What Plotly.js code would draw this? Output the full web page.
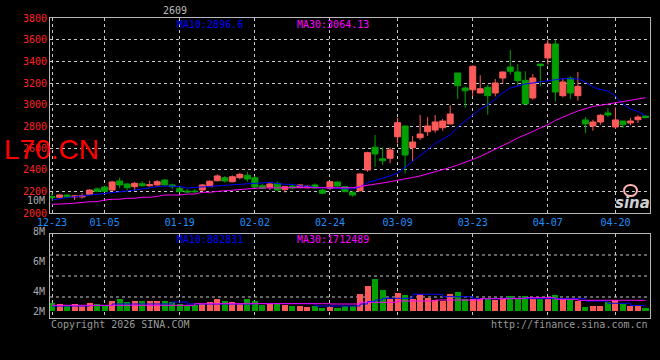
<!DOCTYPE html>
<html><head><meta charset="utf-8">
<script src="https://cdn.plot.ly/plotly-3.0.1.min.js"></script>
<style>html,body{margin:0;padding:0;background:#000;}#chart{width:660px;height:360px;}</style>
</head><body><div id="chart"></div>
<script>
const dates = ["2025-12-23","2025-12-24","2025-12-25","2025-12-26","2025-12-29","2025-12-30","2025-12-31",
"2026-01-05","2026-01-06","2026-01-07","2026-01-08","2026-01-09","2026-01-12","2026-01-13","2026-01-14","2026-01-15","2026-01-16",
"2026-01-19","2026-01-20","2026-01-21","2026-01-22","2026-01-23","2026-01-26","2026-01-27","2026-01-28","2026-01-29","2026-01-30",
"2026-02-02","2026-02-03","2026-02-04","2026-02-05","2026-02-06","2026-02-09","2026-02-10","2026-02-11","2026-02-12","2026-02-13",
"2026-02-24","2026-02-25","2026-02-26","2026-02-27","2026-03-02","2026-03-03","2026-03-04","2026-03-05","2026-03-06",
"2026-03-09","2026-03-10","2026-03-11","2026-03-12","2026-03-13","2026-03-16","2026-03-17","2026-03-18","2026-03-19","2026-03-20",
"2026-03-23","2026-03-24","2026-03-25","2026-03-26","2026-03-27","2026-03-30","2026-03-31","2026-04-01","2026-04-02","2026-04-03",
"2026-04-07","2026-04-08","2026-04-09","2026-04-10","2026-04-13","2026-04-14","2026-04-15","2026-04-16","2026-04-17",
"2026-04-20","2026-04-21","2026-04-22","2026-04-23","2026-04-24"];

const open  = [2152,2145,2166,2148,2148,2173,2222,2240,2212,2296,2268,2243,2270,2252,2259,2305,2259,2228,2203,2203,
2212,2243,2298,2326,2289,2326,2348,2325,2252,2238,2274,2219,2249,2237,2234,2259,2212,2228,2286,2243,
2191,2206,2397,2607,2501,2505,2704,2803,2603,2695,2750,2766,2787,2822,3292,3154,3138,3108,3160,3108,
3246,3348,3302,3225,3062,3375,3431,3560,3083,3246,3083,2859,2803,2840,2923,2794,2849,2831,2861,2895];
const high  = [2185,2173,2175,2166,2182,2219,2237,2245,2298,2326,2274,2289,2295,2298,2305,2310,2271,2240,2219,2222,
2268,2302,2357,2342,2348,2372,2381,2342,2268,2277,2289,2249,2261,2265,2255,2274,2224,2295,2292,2249,
2203,2366,2566,2720,2606,2606,2880,2803,2711,2905,2886,2905,2868,2994,3292,3170,3363,3271,3184,3237,
3302,3505,3375,3308,3283,3375,3600,3600,3246,3262,3302,2886,2861,2914,2969,2976,2849,2877,2902,2900];
const low   = [2114,2136,2138,2120,2132,2166,2191,2195,2206,2228,2206,2212,2243,2243,2252,2255,2219,2191,2182,2182,
2206,2240,2293,2280,2283,2311,2289,2228,2222,2212,2203,2188,2222,2231,2228,2222,2173,2212,2243,2191,
2151,2197,2381,2427,2443,2459,2643,2366,2480,2674,2711,2741,2760,2822,3052,2969,3077,3108,2907,3077,
3194,3277,3170,3006,3046,3170,3369,3031,3068,3052,3037,2738,2760,2815,2886,2775,2785,2810,2831,2875];
const close = [2143,2166,2148,2157,2162,2212,2200,2200,2286,2259,2234,2274,2252,2261,2289,2259,2243,2197,2194,2197,
2259,2293,2342,2295,2335,2357,2314,2240,2228,2268,2212,2243,2231,2259,2249,2231,2182,2289,2249,2197,
2166,2360,2557,2545,2483,2582,2834,2535,2655,2729,2803,2840,2849,2914,3175,3129,3354,3147,3083,3200,
3302,3308,3221,3006,3246,3360,3560,3117,3209,3108,3169,2822,2840,2902,2905,2859,2815,2849,2886,2881];

const ma10 = [2120,2134,2143,2150,2157,2163,2171,2175,2185,2191,2203,2212,2224,2234,2243,2249,2249,2245,2231,2236,
2243,2249,2252,2259,2263,2268,2274,2274,2277,2283,2272,2265,2265,2249,2249,2234,2234,2234,2226,2222,
2222,2240,2282,2300,2319,2342,2369,2420,2475,2531,2582,2642,2683,2720,2794,2849,2909,2960,2997,3052,
3108,3154,3172,3191,3200,3209,3221,3232,3240,3240,3237,3209,3163,3140,3126,3080,3006,2960,2937,2897];
const ma30 = [2080,2080,2086,2090,2097,2104,2104,2120,2127,2127,2136,2136,2145,2145,2154,2166,2166,2166,2175,2175,
2191,2191,2199,2205,2212,2222,2228,2228,2231,2233,2233,2233,2233,2233,2233,2233,2233,2233,2233,2233,
2233,2245,2254,2268,2277,2289,2300,2314,2328,2342,2360,2379,2397,2420,2443,2466,2494,2522,2554,2586,
2619,2656,2693,2720,2752,2785,2815,2854,2886,2914,2942,2965,2983,2994,3006,3018,3029,3040,3048,3064];

const volume = [1280000,1120000,800000,1120000,800000,1280000,1120000,800000,1600000,1920000,
1440000,1600000,1600000,1600000,1600000,1600000,1440000,1120000,800000,960000,
1120000,1440000,1920000,1600000,1440000,1120000,1920000,1600000,960000,1280000,
1120000,960000,800000,800000,640000,800000,480000,640000,480000,800000,
800000,2720000,4000000,5120000,3360000,1920000,2880000,2560000,1920000,2720000,
2080000,1760000,1600000,2720000,3040000,1920000,1920000,1920000,1920000,1760000,
1920000,2400000,1920000,2400000,1920000,1920000,1920000,2560000,1920000,1920000,
1600000,640000,800000,800000,1440000,1760000,1120000,800000,800000,480000];
const volMa10 = [800000,800000,800000,800000,800000,880000,880000,880000,1120000,1120000,
1120000,1120000,1120000,1120000,1120000,1120000,1440000,1440000,1120000,1120000,
1120000,1120000,1120000,1120000,1120000,1120000,1120000,1200000,1200000,1200000,
1200000,1200000,1200000,1200000,1200000,800000,800000,800000,800000,800000,
800000,1120000,1520000,1760000,2030000,2030000,2030000,2030000,2670000,2670000,
2670000,2670000,2290000,2290000,2290000,2290000,1970000,1970000,1970000,1970000,
2030000,2030000,2030000,2030000,1970000,1970000,1970000,1970000,1970000,1970000,
1970000,1600000,1600000,1600000,1230000,1230000,1230000,880000,880000,882831];
const volMa30 = [910000,910000,910000,910000,910000,910000,910000,910000,910000,910000,
910000,910000,910000,910000,910000,910000,910000,910000,910000,1170000,
1170000,1170000,1170000,1170000,1170000,1170000,1170000,1170000,1170000,1170000,
1170000,1170000,1170000,1170000,1170000,1170000,1170000,1120000,1120000,1120000,
1120000,1390000,1390000,1390000,1390000,1390000,1600000,1600000,1600000,1600000,
1600000,1760000,1760000,1760000,1760000,1760000,1760000,1970000,1970000,1970000,
1970000,1970000,1970000,2130000,2130000,2130000,2130000,1870000,1870000,1870000,
1712489,1712489,1712489,1712489,1712489,1712489,1712489,1712489,1712489,1712489];

const tickDates  = ["2025-12-23","2026-01-05","2026-01-19","2026-02-02","2026-02-24","2026-03-09","2026-03-23","2026-04-07","2026-04-20"];
const tickLabels = ["12-23","01-05","01-19","02-02","02-24","03-09","03-23","04-07","04-20"];
const priceTicks = [2000,2200,2400,2600,2800,3000,3200,3400,3600,3800];

const UP = '#ff5a5a', DOWN = '#00a000';
const GRID = '#c8c8c8', FRAME = '#b8b8b8';
const MONO = 'DejaVu Sans Mono, monospace';
const volColors = close.map((c,i) => c >= open[i] ? UP : DOWN);

const traces = [
  {type:'candlestick', x:dates, open:open, high:high, low:low, close:close, xaxis:'x', yaxis:'y',
   increasing:{line:{color:UP, width:1}, fillcolor:UP}, decreasing:{line:{color:DOWN, width:1}, fillcolor:DOWN},
   whiskerwidth:0, hoverinfo:'skip'},
  {type:'scatter', mode:'lines', x:dates, y:ma10, xaxis:'x', yaxis:'y', line:{color:'#0000ff', width:1}, hoverinfo:'skip'},
  {type:'scatter', mode:'lines', x:dates, y:ma30, xaxis:'x', yaxis:'y', line:{color:'#ff00ff', width:1}, hoverinfo:'skip'},
  {type:'bar', x:dates, y:volume, xaxis:'x2', yaxis:'y2', width:0.8, marker:{color:volColors, line:{width:0}}, hoverinfo:'skip'},
  {type:'scatter', mode:'lines', x:dates, y:volMa10, xaxis:'x2', yaxis:'y2', line:{color:'#0000ff', width:1, shape:'hv'}, hoverinfo:'skip'},
  {type:'scatter', mode:'lines', x:dates, y:volMa30, xaxis:'x2', yaxis:'y2', line:{color:'#ff00ff', width:1, shape:'hv'}, hoverinfo:'skip'}
];

function px(x){ return (x-50)/600; }
function py(y){ return (318-y)/300; }
function txt(text, x, y, color, xanchor, extra){
  return Object.assign({text:text, x:px(x), y:py(y), xref:'paper', yref:'paper', showarrow:false,
    xanchor:xanchor||'left', yanchor:'middle', font:{family:MONO, size:10, color:color}}, extra||{});
}

const layout = {
  width:660, height:360,
  paper_bgcolor:'#000', plot_bgcolor:'#000',
  margin:{l:50, r:10, t:18, b:42, pad:0},
  showlegend:false, boxgap:0.2, boxgroupgap:0, bargap:0,
  font:{family:MONO, size:10, color:'#aaaaaa'},
  xaxis:{type:'category', anchor:'y', domain:[0,1], range:[-0.27,79.6], tickvals:tickDates, ticktext:tickLabels,
    tickfont:{family:MONO, size:10, color:'#1e90ff'}, showgrid:true, gridcolor:GRID, griddash:'dot', gridwidth:1,
    showline:true, linecolor:FRAME, linewidth:1, mirror:true, ticks:'', rangeslider:{visible:false}, fixedrange:true},
  yaxis:{anchor:'x', domain:[0.35,1], range:[2000,3800], tickvals:priceTicks, ticktext:priceTicks.map(String),
    tickfont:{family:MONO, size:10, color:'#ff2020'}, showgrid:true, gridcolor:GRID, griddash:'dot', gridwidth:1,
    showline:true, linecolor:FRAME, linewidth:1, mirror:true, zeroline:false, ticks:'', fixedrange:true},
  xaxis2:{type:'category', anchor:'y2', domain:[0,1], range:[-0.27,79.6], tickvals:tickDates, showticklabels:false,
    showgrid:true, gridcolor:GRID, griddash:'dot', gridwidth:1, showline:true, linecolor:FRAME, linewidth:1, mirror:true, ticks:'', fixedrange:true},
  yaxis2:{anchor:'x2', domain:[0,0.28], range:[-1120000,12320000], showticklabels:false, showgrid:false,
    showline:true, linecolor:FRAME, linewidth:1, mirror:true, zeroline:false, ticks:'', fixedrange:true},
  shapes:[0.25,0.5,0.75].map(f => ({type:'line', xref:'x2 domain', yref:'y2 domain', x0:0, x1:1, y0:f, y1:f,
    line:{color:GRID, width:1, dash:'dot'}, layer:'below'})).concat([
    {type:'circle', xref:'paper', yref:'paper', x0:px(624), x1:px(637), y0:py(196), y1:py(185), line:{color:'#ffb4b4', width:2}}
  ]),
  annotations:[
    txt('2609', 175, 10, '#bbbbbb', 'center'),
    txt('MA10:2896.6', 175, 24, '#0000ff'),
    txt('MA30:3064.13', 295, 24, '#ff00ff'),
    txt('MA10:882831', 175, 239, '#0000ff'),
    txt('MA30:1712489', 295, 239, '#ff00ff'),
    txt('10M', 47, 200, '#aaaaaa', 'right'),
    txt('8M', 47, 231, '#aaaaaa', 'right'),
    txt('6M', 47, 261, '#aaaaaa', 'right'),
    txt('4M', 47, 291, '#aaaaaa', 'right'),
    txt('2M', 47, 311, '#aaaaaa', 'right'),
    txt('Copyright 2026 SINA.COM', 49, 324, '#999999'),
    txt('http://finance.sina.com.cn', 650, 324, '#999999', 'right'),
    txt('L70.CN', 51, 149, '#ff0000', 'center', {font:{family:'Liberation Sans, Arial, sans-serif', size:28, color:'#ff0000'}}),
    txt('sina', 632, 203, '#d0d0d0', 'center', {font:{family:'DejaVu Sans, sans-serif', size:15, color:'#d0d0d0', style:'italic', weight:'bold'}})
  ]
};

Plotly.newPlot('chart', traces, layout, {staticPlot:true, displayModeBar:false});
</script>
</body></html>
